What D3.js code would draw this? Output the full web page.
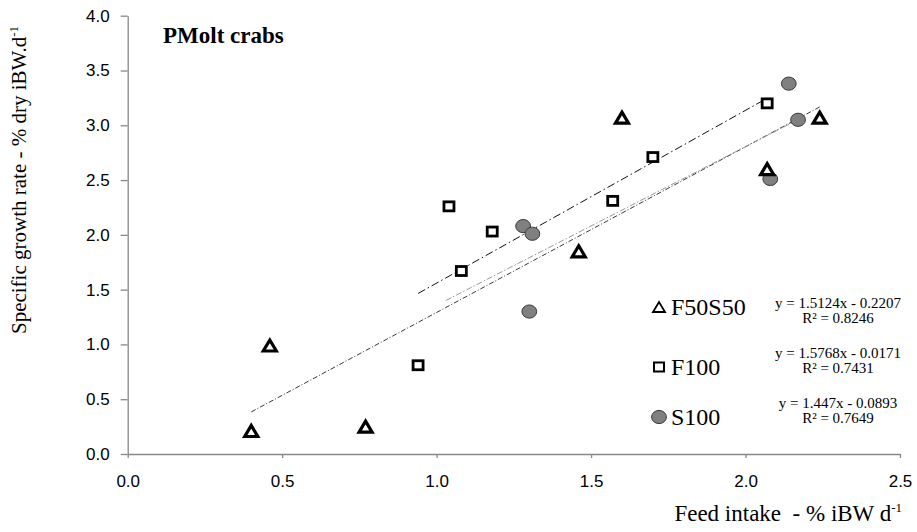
<!DOCTYPE html>
<html>
<head>
<meta charset="utf-8">
<script src="https://cdn.jsdelivr.net/npm/d3@7"></script>
<style>
  body { margin: 0; background: #fff; }
  .tick text { font-family: "Liberation Sans", Arial, sans-serif; font-size: 17px; fill: #000; }
  .serif { font-family: "Liberation Serif", "Times New Roman", serif; fill: #000; }
</style>
</head>
<body>
<div class="chart"></div>
<script>
var svgWidth = 917;
var svgHeight = 532;

// series data (feed intake, growth rate)
var f50s50X = [0.40, 0.46, 0.77, 1.46, 1.60, 2.07, 2.24];
var f50s50Y = [0.21, 0.99, 0.25, 1.85, 3.07, 2.60, 3.07];
var f100X = [0.94, 1.04, 1.08, 1.18, 1.57, 1.70, 2.07];
var f100Y = [0.81, 2.26, 1.67, 2.03, 2.31, 2.71, 3.20];
var s100X = [1.28, 1.30, 1.31, 2.08, 2.14, 2.17];
var s100Y = [2.08, 1.30, 2.01, 2.51, 3.38, 3.05];

// trendline fits and their drawn x spans
var seriesNames = ["F50S50", "F100", "S100"];
var slopes = [1.5124, 1.5768, 1.447];
var intercepts = [-0.2207, -0.0171, -0.0893];
var r2Values = ["0.8246", "0.7431", "0.7649"];
var trendFrom = [0.40, 0.94, 1.03];
var trendTo = [2.24, 2.07, 2.17];

var xTicks = [0, 0.5, 1.0, 1.5, 2.0, 2.5];
var yTicks = [0, 0.5, 1.0, 1.5, 2.0, 2.5, 3.0, 3.5, 4.0];

var svg = d3.select(".chart")
  .append("svg")
  .attr("width", svgWidth)
  .attr("height", svgHeight);

var x = d3.scaleLinear().domain([0, 2.5]).range([127.7, 900]);
var y = d3.scaleLinear().domain([0, 4]).range([454, 15.7]);

// axes
var axisColor = "#888";
var xAxis = svg.append("g")
  .attr("transform", "translate(0," + y(0) + ")")
  .call(d3.axisBottom(x).tickValues(xTicks).tickFormat(d3.format(".1f")).tickSize(4).tickSizeOuter(0));
var yAxis = svg.append("g")
  .attr("transform", "translate(" + x(0) + ",0)")
  .call(d3.axisLeft(y).tickValues(yTicks).tickFormat(d3.format(".1f")).tickSize(7).tickSizeOuter(0));
[xAxis, yAxis].forEach(function(a) {
  a.select(".domain").attr("stroke", axisColor).attr("stroke-width", 1.3);
  a.selectAll(".tick line").attr("stroke", axisColor).attr("stroke-width", 1.3);
});
xAxis.selectAll(".tick text").attr("dy", "1.5em");
yAxis.selectAll(".tick text").attr("x", -18);

// trendlines
var lineStyles = [
  { color: "#222", dash: "5,2,1,2", width: 0.9 },
  { color: "#111", dash: "8,3,1.5,3", width: 1 },
  { color: "#999", dash: "6,2,1.5,2", width: 1 }
];
var line = d3.line().x(d => x(d[0])).y(d => y(d[1]));
seriesNames.forEach(function(name, i) {
  var pts = [trendFrom[i], trendTo[i]].map(v => [v, slopes[i] * v + intercepts[i]]);
  svg.append("path")
    .attr("d", line(pts))
    .attr("fill", "none")
    .attr("stroke", lineStyles[i].color)
    .attr("stroke-width", lineStyles[i].width)
    .attr("stroke-dasharray", lineStyles[i].dash);
});

// marker helpers
function triPath(w, h) {
  return "M0," + (-h / 2) + "L" + (w / 2) + "," + (h / 2) + "L" + (-w / 2) + "," + (h / 2) + "Z";
}
function addTriangle(g, cx, cy, thin) {
  g.append("path").attr("d", thin ? triPath(12, 10) : triPath(13, 11))
    .attr("transform", "translate(" + cx + "," + cy + ")")
    .attr("fill", "#fff").attr("stroke", "#000").attr("stroke-width", thin ? 1.8 : 3.2)
    .attr("stroke-linejoin", "miter");
}
function addSquare(g, cx, cy, thin) {
  g.append("rect").attr("x", cx - 5).attr("y", cy - 4.5).attr("width", 10).attr("height", 9)
    .attr("fill", "#fff").attr("stroke", "#000").attr("stroke-width", thin ? 2 : 2.8);
}
function addCircle(g, cx, cy) {
  g.append("ellipse").attr("cx", cx).attr("cy", cy).attr("rx", 7.4).attr("ry", 6.6)
    .attr("fill", "#808080").attr("stroke", "#3a3a3a").attr("stroke-width", 1);
}

var points = svg.append("g");
s100X.forEach((v, i) => addCircle(points, x(v), y(s100Y[i])));
f100X.forEach((v, i) => addSquare(points, x(v), y(f100Y[i])));
f50s50X.forEach((v, i) => addTriangle(points, x(v), y(f50s50Y[i])));

// title
svg.append("text").attr("class", "serif")
  .attr("x", 163).attr("y", 43)
  .style("font-size", "23px").style("font-weight", "bold")
  .text("PMolt crabs");

// axis titles
var yTitle = svg.append("text").attr("class", "serif")
  .attr("transform", "translate(26,180) rotate(-90)")
  .attr("text-anchor", "middle")
  .style("font-size", "21px");
yTitle.append("tspan").text("Specific growth rate - % dry iBW.d");
yTitle.append("tspan").attr("dy", -8).style("font-size", "13px").text("-1");

var xTitle = svg.append("text").attr("class", "serif")
  .attr("x", 902).attr("y", 521)
  .attr("text-anchor", "end")
  .style("font-size", "23px")
  .style("white-space", "pre");
xTitle.append("tspan").text("Feed intake  - % iBW d");
xTitle.append("tspan").attr("dy", -9).style("font-size", "13px").text("-1");

// legend with equations
var legendY = [307, 367, 417];
var eqY = [308, 358, 408];
var legend = svg.append("g");
var markerFns = [addTriangle, addSquare, addCircle];
seriesNames.forEach(function(name, i) {
  markerFns[i](legend, 659, legendY[i], true);
  legend.append("text").attr("class", "serif")
    .attr("x", 671).attr("y", legendY[i] + 8)
    .style("font-size", "24px")
    .text(name);
  var sign = intercepts[i] < 0 ? " - " : " + ";
  legend.append("text").attr("class", "serif")
    .attr("x", 838).attr("y", eqY[i])
    .attr("text-anchor", "middle")
    .style("font-size", "15px")
    .text("y = " + slopes[i] + "x" + sign + Math.abs(intercepts[i]).toFixed(4));
  legend.append("text").attr("class", "serif")
    .attr("x", 838).attr("y", eqY[i] + 15)
    .attr("text-anchor", "middle")
    .style("font-size", "15px")
    .text("R² = " + r2Values[i]);
});
</script>
</body>
</html>
